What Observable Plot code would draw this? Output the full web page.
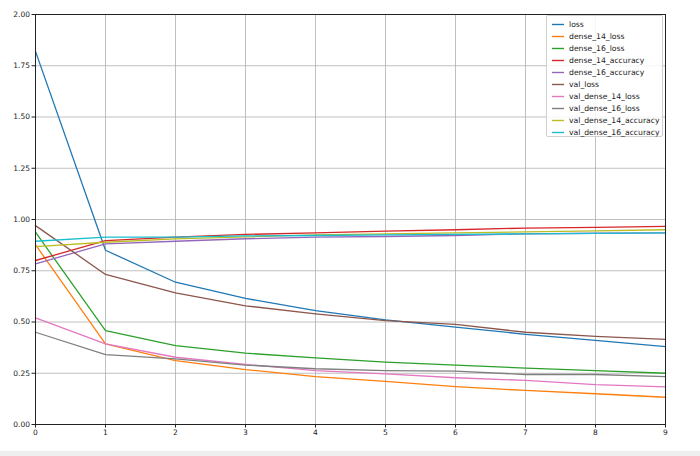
<!DOCTYPE html>
<html>
<head>
<meta charset="utf-8">
<script src="https://cdn.jsdelivr.net/npm/d3@7"></script>
<script src="https://cdn.jsdelivr.net/npm/@observablehq/plot@0.6"></script>
<style>
  html, body { margin: 0; padding: 0; background: #fff; }
  #wrap { position: relative; width: 700px; }
  #legend {
    position: absolute; left: 546px; top: 15px; width: 117px; height: 122px;
    border: 1px solid #d0d0d0; border-radius: 2px; background: rgba(255,255,255,0.85);
    font-family: "DejaVu Sans", sans-serif; font-size: 7.7px; color: #222; box-sizing: border-box;
  }
  #legend svg { position: absolute; left: 0; top: 0; }
  #strip { width: 700px; height: 5px; background: #eeeeee; }
</style>
</head>
<body>
<div id="wrap"></div>
<div id="strip"></div>
<script>
const epochs = [0, 1, 2, 3, 4, 5, 6, 7, 8, 9];
const seriesNames = ["loss", "dense_14_loss", "dense_16_loss", "dense_14_accuracy", "dense_16_accuracy",
  "val_loss", "val_dense_14_loss", "val_dense_16_loss", "val_dense_14_accuracy", "val_dense_16_accuracy"];
const seriesColors = ["#1f77b4", "#ff7f0e", "#2ca02c", "#d62728", "#9467bd",
  "#8c564b", "#e377c2", "#7f7f7f", "#bcbd22", "#17becf"];

const loss                 = [1.82, 0.85, 0.694, 0.615, 0.556, 0.510, 0.475, 0.440, 0.410, 0.380];
const dense_14_loss        = [0.877, 0.393, 0.312, 0.268, 0.234, 0.210, 0.185, 0.166, 0.150, 0.133];
const dense_16_loss        = [0.938, 0.458, 0.385, 0.348, 0.325, 0.304, 0.290, 0.275, 0.263, 0.250];
const dense_14_accuracy    = [0.800, 0.897, 0.914, 0.927, 0.935, 0.943, 0.950, 0.958, 0.962, 0.966];
const dense_16_accuracy    = [0.784, 0.881, 0.894, 0.906, 0.914, 0.917, 0.922, 0.930, 0.933, 0.935];
const val_loss             = [0.970, 0.732, 0.642, 0.579, 0.540, 0.507, 0.488, 0.450, 0.430, 0.415];
const val_dense_14_loss    = [0.520, 0.393, 0.328, 0.293, 0.263, 0.247, 0.228, 0.215, 0.195, 0.184];
const val_dense_16_loss    = [0.450, 0.341, 0.320, 0.290, 0.272, 0.263, 0.260, 0.244, 0.244, 0.234];
const val_dense_14_accuracy= [0.868, 0.889, 0.905, 0.915, 0.925, 0.930, 0.935, 0.940, 0.945, 0.950];
const val_dense_16_accuracy= [0.894, 0.914, 0.914, 0.920, 0.922, 0.925, 0.927, 0.930, 0.932, 0.935];

const yTicks = [0, 0.25, 0.5, 0.75, 1.0, 1.25, 1.5, 1.75, 2.0];

const seriesValues = [loss, dense_14_loss, dense_16_loss, dense_14_accuracy, dense_16_accuracy,
  val_loss, val_dense_14_loss, val_dense_16_loss, val_dense_14_accuracy, val_dense_16_accuracy];

const data = [];
seriesNames.forEach((name, i) => {
  epochs.forEach((e, j) => data.push({series: name, epoch: e, value: seriesValues[i][j]}));
});

const chart = Plot.plot({
  width: 700,
  height: 451,
  marginLeft: 35,
  marginRight: 35,
  marginTop: 14,
  marginBottom: 27,
  style: {fontFamily: "DejaVu Sans, sans-serif", fontSize: "7.5px", color: "#222", background: "#fff"},
  x: {domain: [0, 9], ticks: epochs, tickFormat: d3.format("d"), label: null, tickSize: 3.5, tickPadding: 2},
  y: {domain: [0, 2], ticks: yTicks, tickFormat: d3.format(".2f"), label: null, tickSize: 3.5, tickPadding: 2},
  color: {domain: seriesNames, range: seriesColors},
  marks: [
    Plot.gridX(epochs, {stroke: "#b0b0b0", strokeOpacity: 1, strokeWidth: 0.8}),
    Plot.gridY(yTicks, {stroke: "#b0b0b0", strokeOpacity: 1, strokeWidth: 0.8}),
    Plot.line(data, {x: "epoch", y: "value", z: "series", stroke: "series", strokeWidth: 1.3}),
    Plot.frame({stroke: "#222", strokeWidth: 1})
  ]
});

const wrap = document.getElementById("wrap");
wrap.appendChild(chart);

// legend (HTML box with SVG swatches)
const legend = document.createElement("div");
legend.id = "legend";
const ns = "http://www.w3.org/2000/svg";
const lsvg = document.createElementNS(ns, "svg");
lsvg.setAttribute("width", 117);
lsvg.setAttribute("height", 122);
seriesNames.forEach((name, i) => {
  const cy = 8.5 + i * 12;
  const ln = document.createElementNS(ns, "line");
  ln.setAttribute("x1", 5); ln.setAttribute("x2", 17);
  ln.setAttribute("y1", cy); ln.setAttribute("y2", cy);
  ln.setAttribute("stroke", seriesColors[i]);
  ln.setAttribute("stroke-width", 1.4);
  lsvg.appendChild(ln);
  const tx = document.createElementNS(ns, "text");
  tx.setAttribute("x", 22); tx.setAttribute("y", cy);
  tx.setAttribute("dy", "0.35em");
  tx.setAttribute("font-family", "DejaVu Sans, sans-serif");
  tx.setAttribute("font-size", "7.7");
  tx.setAttribute("fill", "#222");
  tx.textContent = name;
  lsvg.appendChild(tx);
});
legend.appendChild(lsvg);
wrap.appendChild(legend);
</script>
</body>
</html>
